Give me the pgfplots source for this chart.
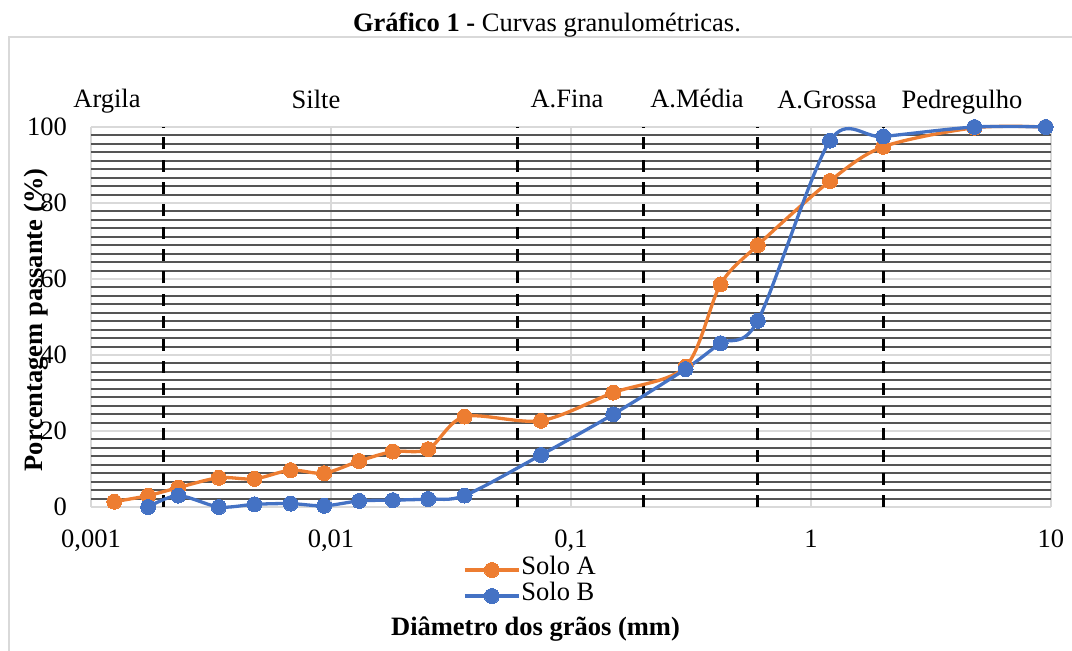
\documentclass[border=0pt]{standalone}
\usepackage{fontspec}
\setmainfont{Liberation Serif}
\usepackage{pgfplots}
\pgfplotsset{compat=1.18}
\definecolor{soloA}{HTML}{ED7D31}
\definecolor{soloB}{HTML}{4472C4}
\definecolor{gridlight}{HTML}{D9D9D9}
\definecolor{griddark}{HTML}{555555}
\newcommand{\fs}{\fontsize{26.5}{31}\selectfont}

\begin{document}
\begin{tikzpicture}
\useasboundingbox (-91pt,-144pt) rectangle (981pt,507pt);

% chart frame (cut off right and bottom)
\draw[gridlight, line width=1.5pt] (-82pt,-160pt) -- (-82pt,470pt) -- (1000pt,470pt);

\begin{axis}[
    at={(0pt,0pt)}, anchor=south west,
    scale only axis, width=960pt, height=380pt,
    xmode=log, xmin=0.001, xmax=10,
    ymin=0, ymax=100,
    enlargelimits=false, clip=false,
    xtick={0.001,0.01,0.1,1,10},
    xticklabels={{0,001},{0,01},{0,1},{1},{10}},
    minor xtick={},
    ytick={0,20,40,60,80,100},
    yticklabels={0,20,40,60,80,100},
    minor y tick num=8,
    xmajorgrids, ymajorgrids, yminorgrids,
    major grid style={color=gridlight, line width=1.3pt},
    minor grid style={color=griddark, line width=1.9pt},
    axis line style={draw=none},
    major tick length=0pt, minor tick length=0pt,
    tick label style={font=\fs},
    xticklabel style={anchor=base, yshift=-40pt},
    yticklabel style={anchor=east, inner sep=0pt, xshift=-24pt},
    legend style={at={(0.3875,-0.131)}, anchor=north west, draw=none, fill=none,
        font=\fs, inner sep=0pt, row sep=0pt,
        nodes={inner sep=1pt, text height=17pt, text depth=7pt}},
    legend cell align=left,
    legend image code/.code={
        \draw[mark repeat=2,mark phase=2,#1] plot coordinates {(0pt,0pt) (27pt,0pt) (54pt,0pt)};
    },
]

% textural class limits (ABNT)
\addplot[black, line width=3pt, dash pattern=on 12pt off 10.35pt, forget plot]
    coordinates {(0.002,0) (0.002,100)};
\addplot[black, line width=3pt, dash pattern=on 12pt off 10.35pt, forget plot]
    coordinates {(0.06,0) (0.06,100)};
\addplot[black, line width=3pt, dash pattern=on 12pt off 10.35pt, forget plot]
    coordinates {(0.2,0) (0.2,100)};
\addplot[black, line width=3pt, dash pattern=on 12pt off 10.35pt, forget plot]
    coordinates {(0.6,0) (0.6,100)};
\addplot[black, line width=3pt, dash pattern=on 12pt off 10.35pt, forget plot]
    coordinates {(2,0) (2,100)};

% Solo A
\addplot[soloA, line width=3.3pt, smooth, tension=0.5, mark=*, mark size=7.5pt,
         mark options={solid, fill=soloA, draw=soloA, line width=0pt}]
    coordinates {(0.00125,1.4) (0.00173,3.0) (0.00231,5.1) (0.00341,7.7) (0.0048,7.4)
                 (0.00679,9.7) (0.00936,8.9) (0.0131,12.1) (0.0181,14.6) (0.0254,15.2)
                 (0.036,23.8) (0.075,22.7) (0.15,30.1) (0.3,36.9) (0.42,58.6)
                 (0.6,68.9) (1.2,85.8) (2.0,94.8) (4.8,99.8) (9.5,100)};
\addlegendentry{Solo A}

% Solo B
\addplot[soloB, line width=3.3pt, smooth, tension=0.5, mark=*, mark size=7.5pt,
         mark options={solid, fill=soloB, draw=soloB, line width=0pt}]
    coordinates {(0.00173,0) (0.00231,3.0) (0.00341,0) (0.0048,0.7) (0.00679,0.9)
                 (0.00936,0.3) (0.0131,1.6) (0.0181,1.8) (0.0254,2.1) (0.036,3.0)
                 (0.075,13.7) (0.15,24.4) (0.3,36.3) (0.42,43.1) (0.6,49.0)
                 (1.2,96.4) (2.0,97.5) (4.8,100) (9.5,100)};
\addlegendentry{Solo B}

\end{axis}

% title
\node[font=\fs, anchor=base] at (456pt,475pt) {\textbf{Gráfico 1 -} Curvas granulométricas.};

% class names
\node[font=\fs, anchor=base] at (16pt,399pt) {Argila};
\node[font=\fs, anchor=base] at (225pt,398pt) {Silte};
\node[font=\fs, anchor=base] at (476pt,399pt) {A.Fina};
\node[font=\fs, anchor=base] at (606pt,399pt) {A.Média};
\node[font=\fs, anchor=base] at (736pt,398pt) {A.Grossa};
\node[font=\fs, anchor=base] at (871pt,398pt) {Pedregulho};

% axis titles
\node[font=\fs\bfseries, anchor=base, rotate=90] at (-48pt,187pt) {Porcentagem passante (\%)};
\node[font=\fs\bfseries, anchor=base] at (444.5pt,-128pt) {Diâmetro dos grãos (mm)};
\end{tikzpicture}
\end{document}
